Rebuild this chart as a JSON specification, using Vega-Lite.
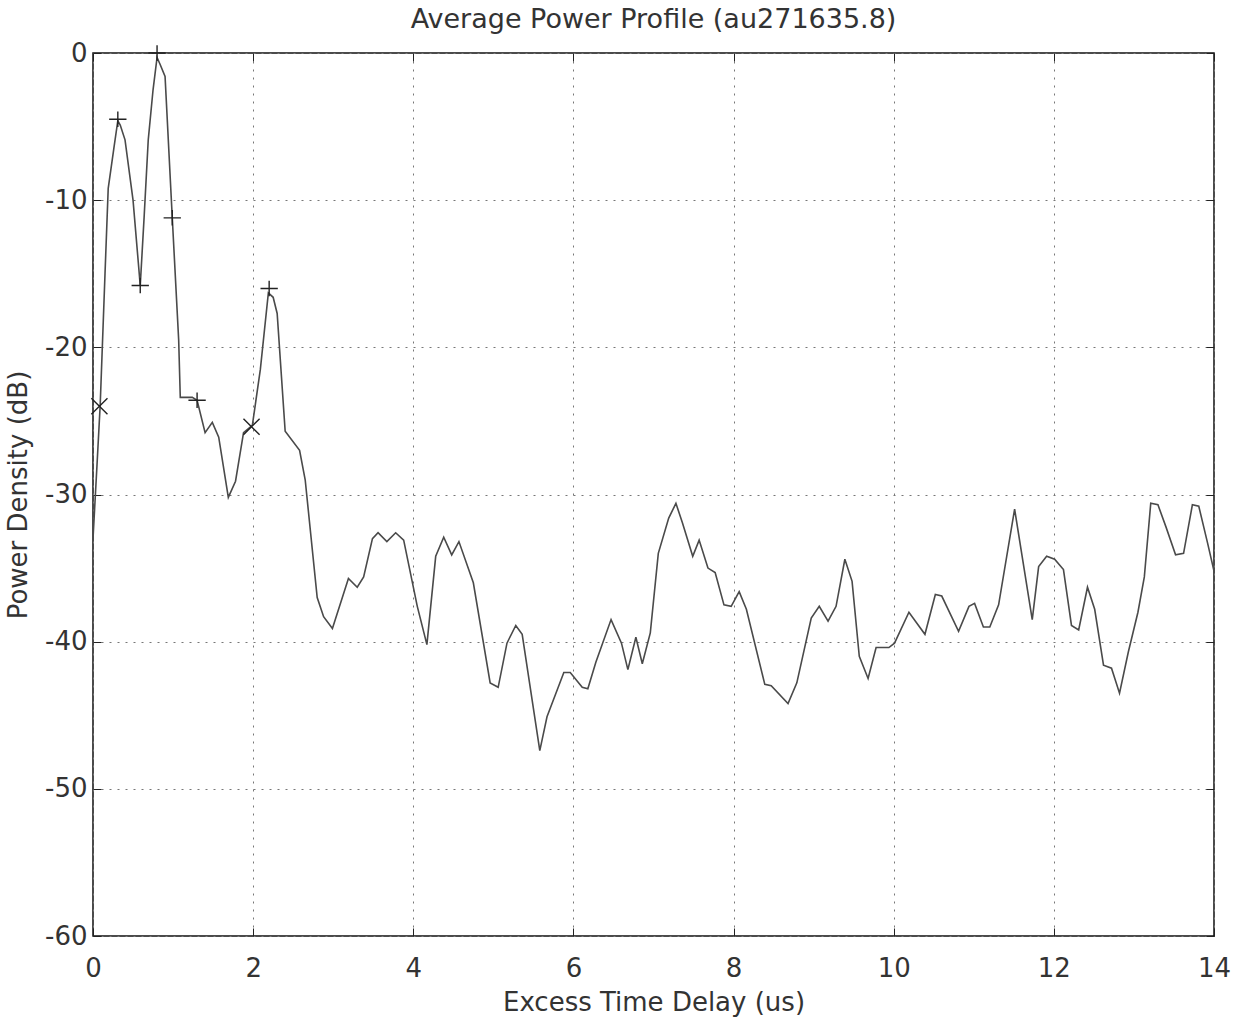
{
  "$schema": "https://vega.github.io/schema/vega-lite/v6.json",
  "width": 1121,
  "height": 883,
  "autosize": {"type": "none"},
  "padding": {"left": 93, "top": 53, "right": 27, "bottom": 94},
  "background": "white",
  "title": {"text": "Average Power Profile (au271635.8)", "fontSize": 27, "font": "DejaVu Sans", "fontWeight": "normal", "color": "#333", "offset": 6, "anchor": "middle"},
  "config": {
    "view": {"stroke": "#111", "strokeWidth": 1.5},
    "axis": {"labelFont": "DejaVu Sans", "titleFont": "DejaVu Sans", "labelFontSize": 26, "titleFontSize": 26, "titleFontWeight": "normal", "labelColor": "#333", "titleColor": "#333", "domain": false, "tickColor": "#222", "tickSize": -8, "gridColor": "#777", "gridDash": [2, 6], "gridWidth": 1}
  },
  "datasets": {
    "profile": [
      {"x": 0, "y": -33}, {"x": 0.05, "y": -28}, {"x": 0.09, "y": -23.9}, {"x": 0.15, "y": -15}, {"x": 0.19, "y": -9.2}, {"x": 0.26, "y": -6.5}, {"x": 0.31, "y": -4.6}, {"x": 0.34, "y": -4.9}, {"x": 0.4, "y": -5.9}, {"x": 0.5, "y": -10}, {"x": 0.59, "y": -15.8}, {"x": 0.64, "y": -11}, {"x": 0.69, "y": -5.9}, {"x": 0.75, "y": -2.5}, {"x": 0.8, "y": -0.3}, {"x": 0.84, "y": -0.8}, {"x": 0.9, "y": -1.6}, {"x": 0.99, "y": -11.2}, {"x": 1.07, "y": -19.5}, {"x": 1.09, "y": -23.4}, {"x": 1.24, "y": -23.4}, {"x": 1.3, "y": -23.6}, {"x": 1.4, "y": -25.8}, {"x": 1.49, "y": -25.1}, {"x": 1.57, "y": -26.1}, {"x": 1.69, "y": -30.2}, {"x": 1.78, "y": -29.1}, {"x": 1.88, "y": -25.8}, {"x": 1.99, "y": -25.3}, {"x": 2.09, "y": -21.5}, {"x": 2.19, "y": -16.3}, {"x": 2.25, "y": -16.6}, {"x": 2.3, "y": -17.7}, {"x": 2.4, "y": -25.7}, {"x": 2.58, "y": -27.0}, {"x": 2.65, "y": -29}, {"x": 2.8, "y": -37}, {"x": 2.88, "y": -38.3}, {"x": 2.99, "y": -39.1}, {"x": 3.19, "y": -35.7}, {"x": 3.3, "y": -36.3}, {"x": 3.38, "y": -35.6}, {"x": 3.49, "y": -33}, {"x": 3.56, "y": -32.6}, {"x": 3.67, "y": -33.2}, {"x": 3.78, "y": -32.6}, {"x": 3.88, "y": -33.1}, {"x": 4.05, "y": -37.6}, {"x": 4.17, "y": -40.2}, {"x": 4.28, "y": -34.2}, {"x": 4.38, "y": -32.9}, {"x": 4.48, "y": -34.1}, {"x": 4.57, "y": -33.2}, {"x": 4.75, "y": -36}, {"x": 4.96, "y": -42.8}, {"x": 5.06, "y": -43.1}, {"x": 5.17, "y": -40.1}, {"x": 5.28, "y": -38.9}, {"x": 5.36, "y": -39.5}, {"x": 5.58, "y": -47.4}, {"x": 5.67, "y": -45.1}, {"x": 5.88, "y": -42.1}, {"x": 5.96, "y": -42.1}, {"x": 6.11, "y": -43.1}, {"x": 6.18, "y": -43.2}, {"x": 6.28, "y": -41.4}, {"x": 6.47, "y": -38.5}, {"x": 6.6, "y": -40.1}, {"x": 6.68, "y": -41.9}, {"x": 6.78, "y": -39.7}, {"x": 6.86, "y": -41.5}, {"x": 6.96, "y": -39.4}, {"x": 7.06, "y": -34}, {"x": 7.19, "y": -31.6}, {"x": 7.28, "y": -30.6}, {"x": 7.36, "y": -31.9}, {"x": 7.49, "y": -34.2}, {"x": 7.57, "y": -33.1}, {"x": 7.68, "y": -35}, {"x": 7.77, "y": -35.3}, {"x": 7.88, "y": -37.5}, {"x": 7.97, "y": -37.6}, {"x": 8.07, "y": -36.6}, {"x": 8.16, "y": -37.8}, {"x": 8.39, "y": -42.9}, {"x": 8.47, "y": -43}, {"x": 8.68, "y": -44.2}, {"x": 8.79, "y": -42.8}, {"x": 8.97, "y": -38.4}, {"x": 9.07, "y": -37.6}, {"x": 9.18, "y": -38.6}, {"x": 9.28, "y": -37.6}, {"x": 9.39, "y": -34.4}, {"x": 9.48, "y": -35.9}, {"x": 9.57, "y": -41}, {"x": 9.68, "y": -42.5}, {"x": 9.78, "y": -40.4}, {"x": 9.94, "y": -40.4}, {"x": 10.01, "y": -40.1}, {"x": 10.19, "y": -38}, {"x": 10.39, "y": -39.5}, {"x": 10.52, "y": -36.8}, {"x": 10.6, "y": -36.9}, {"x": 10.81, "y": -39.3}, {"x": 10.94, "y": -37.6}, {"x": 11.01, "y": -37.4}, {"x": 11.12, "y": -39}, {"x": 11.2, "y": -39}, {"x": 11.31, "y": -37.5}, {"x": 11.51, "y": -31}, {"x": 11.73, "y": -38.5}, {"x": 11.81, "y": -34.9}, {"x": 11.91, "y": -34.2}, {"x": 12.01, "y": -34.4}, {"x": 12.12, "y": -35.1}, {"x": 12.22, "y": -38.9}, {"x": 12.31, "y": -39.2}, {"x": 12.42, "y": -36.3}, {"x": 12.51, "y": -37.8}, {"x": 12.62, "y": -41.6}, {"x": 12.72, "y": -41.8}, {"x": 12.82, "y": -43.5}, {"x": 12.93, "y": -40.7}, {"x": 13.05, "y": -38}, {"x": 13.13, "y": -35.6}, {"x": 13.21, "y": -30.6}, {"x": 13.3, "y": -30.7}, {"x": 13.4, "y": -32.2}, {"x": 13.52, "y": -34.1}, {"x": 13.62, "y": -34}, {"x": 13.73, "y": -30.7}, {"x": 13.81, "y": -30.8}, {"x": 13.92, "y": -33.3}, {"x": 14, "y": -35.2}
    ],
    "plus": [
      {"x": 0.31, "y": -4.5}, {"x": 0.59, "y": -15.8}, {"x": 0.8, "y": 0}, {"x": 0.99, "y": -11.2}, {"x": 1.3, "y": -23.6}, {"x": 2.2, "y": -16}
    ],
    "cross": [
      {"x": 0.08, "y": -24}, {"x": 1.98, "y": -25.4}
    ]
  },
  "layer": [
    {
      "data": {"name": "profile"},
      "mark": {"type": "line", "color": "#4a4a4a", "strokeWidth": 1.6, "clip": true},
      "encoding": {
        "x": {"field": "x", "type": "quantitative", "scale": {"domain": [0, 14], "nice": false, "zero": false}, "axis": {"values": [0, 2, 4, 6, 8, 10, 12, 14], "title": "Excess Time Delay (us)", "grid": true, "labelPadding": 27, "titlePadding": 8, "labelFlush": false}},
        "y": {"field": "y", "type": "quantitative", "scale": {"domain": [-60, 0], "nice": false, "zero": false}, "axis": {"values": [-60, -50, -40, -30, -20, -10, 0], "labelExpr": "toString(datum.value)", "title": "Power Density (dB)", "grid": true, "labelPadding": 14, "titlePadding": 13, "labelFlush": false}}
      }
    },
    {
      "data": {"name": "plus"},
      "mark": {"type": "point", "shape": "M-1,0H1M0,-0.9V0.9", "size": 300, "stroke": "#222", "strokeWidth": 1.4, "filled": false, "opacity": 1},
      "encoding": {
        "x": {"field": "x", "type": "quantitative", "axis": {"orient": "top", "values": [0, 2, 4, 6, 8, 10, 12, 14], "labels": false, "title": null, "grid": false}},
        "y": {"field": "y", "type": "quantitative", "axis": {"orient": "right", "values": [-60, -50, -40, -30, -20, -10, 0], "labels": false, "title": null, "grid": false}}
      }
    },
    {
      "data": {"name": "cross"},
      "mark": {"type": "point", "shape": "M-1,-1L1,1M-1,1L1,-1", "size": 260, "stroke": "#222", "strokeWidth": 1.4, "filled": false, "opacity": 1},
      "encoding": {
        "x": {"field": "x", "type": "quantitative", "axis": null},
        "y": {"field": "y", "type": "quantitative", "axis": null}
      }
    }
  ],
  "resolve": {"axis": {"x": "independent", "y": "independent"}}
}
